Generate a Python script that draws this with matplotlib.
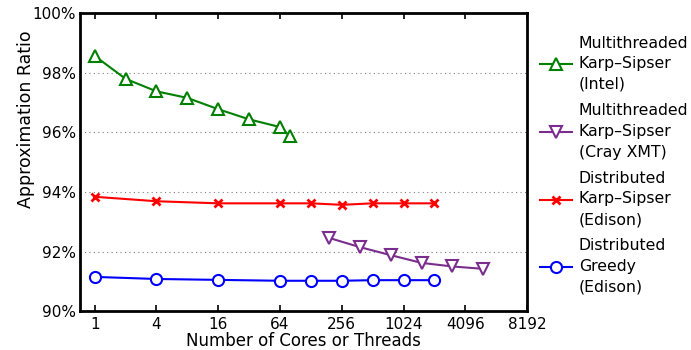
import matplotlib
matplotlib.use("Agg")
import matplotlib.pyplot as plt
from matplotlib.ticker import FuncFormatter

# data
intel_x = [1, 2, 4, 8, 16, 32, 64, 80]
intel_y = [98.57, 97.80, 97.38, 97.16, 96.78, 96.44, 96.18, 95.88]

xmt_x = [192, 384, 768, 1536, 3072, 6144]
xmt_y = [92.46, 92.15, 91.88, 91.62, 91.50, 91.42]

ks_x = [1, 4, 16, 64, 128, 256, 512, 1024, 2048]
ks_y = [93.84, 93.69, 93.62, 93.62, 93.62, 93.57, 93.62, 93.62, 93.62]

greedy_x = [1, 4, 16, 64, 128, 256, 512, 1024, 2048]
greedy_y = [91.15, 91.08, 91.05, 91.02, 91.02, 91.02, 91.04, 91.04, 91.04]

xticks = [1, 4, 16, 64, 256, 1024, 4096, 16384]
xticklabels = ["1", "4", "16", "64", "256", "1024", "4096", "8192"]

fig = plt.figure(figsize=(6.91, 3.5), dpi=100)
ax = fig.add_axes([0.1158, 0.111, 0.647, 0.851])

lw = 1.5
ax.plot(intel_x, intel_y, color="#008000", marker="^", mfc="white", mec="#008000",
        ms=8, mew=1.5, lw=lw, label="Multithreaded\nKarp\u2013Sipser\n(Intel)")
ax.plot(xmt_x, xmt_y, color="#7b2d8e", marker="v", mfc="white", mec="#7b2d8e",
        ms=8, mew=1.5, lw=lw, label="Multithreaded\nKarp\u2013Sipser\n(Cray XMT)")
ax.plot(ks_x, ks_y, color="#ff0000", marker="x", ms=6, mew=2, lw=lw,
        label="Distributed\nKarp\u2013Sipser\n(Edison)")
ax.plot(greedy_x, greedy_y, color="#0000ff", marker="o", mfc="white", mec="#0000ff",
        ms=8, mew=1.5, lw=lw, label="Distributed\nGreedy\n(Edison)")

ax.set_xscale("log", base=2)
ax.set_xlim(0.72, 16384)
ax.set_ylim(90, 100)
ax.set_xticks(xticks)
ax.set_xticklabels(xticklabels)
ax.minorticks_off()
ax.set_yticks([90, 92, 94, 96, 98, 100])
ax.yaxis.set_major_formatter(FuncFormatter(lambda v, p: "%d%%" % v))

ax.grid(axis="y", linestyle=(0, (1, 3)), color="gray", lw=0.8)
ax.tick_params(axis="x", direction="in", top=True, length=4, width=1.2, labelsize=11, pad=4)
ax.tick_params(axis="y", direction="in", length=0, labelsize=11, pad=3)
for s in ax.spines.values():
    s.set_linewidth(2)

ax.set_xlabel("Number of Cores or Threads", fontsize=12, labelpad=0)
ax.set_ylabel("Approximation Ratio", fontsize=12.5)
ax.yaxis.set_label_coords(-0.10, 0.646)

leg = ax.legend(loc="center left", bbox_to_anchor=(1.0, 0.49), frameon=False, fontsize=11.3,
                handlelength=2.05, handletextpad=0.45, labelspacing=0.72, borderaxespad=0.4)
for t in leg.get_texts():
    t.set_linespacing(1.47)

fig.savefig("out.png", dpi=100)
